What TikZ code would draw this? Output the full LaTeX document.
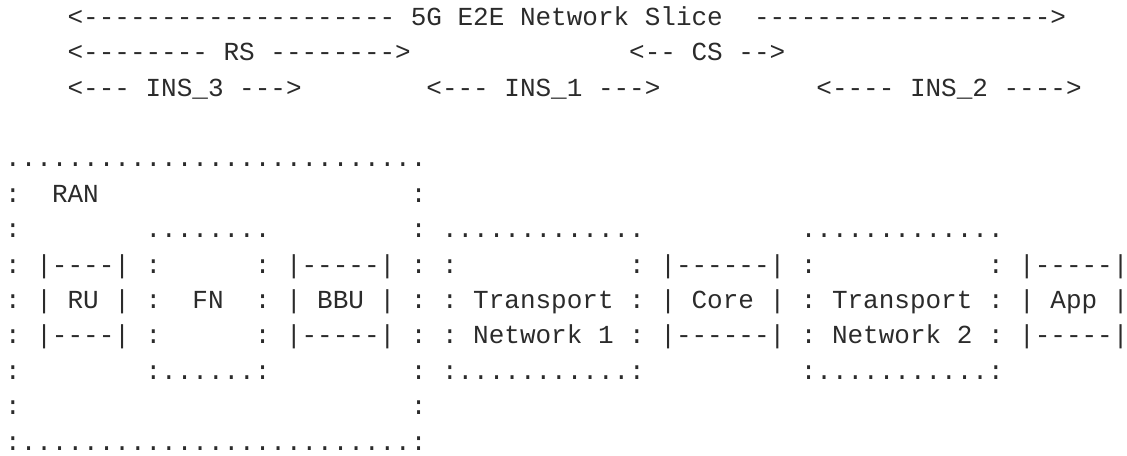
\documentclass[tikz,border=0pt]{standalone}
\usepackage{fontspec}
\setmonofont{Liberation Mono}
\definecolor{ink}{HTML}{2B2B2B}
\tikzset{
  asc/.style={anchor=base west, inner sep=0pt, outer sep=0pt, text=ink,
    font=\ttfamily\fontsize{13}{15}\selectfont}
}
% one piece of the text grid: name, column, row, text
\newcommand{\asc}[4]{\node[asc] (#1) at ({2.6pt+#2*7.8pt}, {-12.65pt-#3*17.7pt}) {#4};}
\begin{document}
\begin{tikzpicture}
            % page size, 1127 x 455 at 0.5pt
            \useasboundingbox (0,0) rectangle (563.5pt,-227.5pt);

            % the slice spans on top
            \asc{slice}{4}{0}{<-------------------- 5G E2E Network Slice}
            \asc{sliceend}{48}{0}{------------------->}
            \asc{rs}{4}{1}{<-------- RS -------->}
            \asc{cs}{40}{1}{<-- CS -->}
            \asc{insthree}{4}{2}{<--- INS\_3 --->}
            \asc{insone}{27}{2}{<--- INS\_1 --->}
            \asc{instwo}{52}{2}{<---- INS\_2 ---->}

            % RAN box and the boxes beside it
            \asc{rantop}{0}{4}{...........................}
            \asc{ranl}{0}{5}{:}
            \asc{ran}{3}{5}{RAN}
            \asc{ranr}{26}{5}{:}
            \asc{rowsixa}{0}{6}{:}
            \asc{fntop}{9}{6}{........}
            \asc{tnonetop}{26}{6}{: .............}
            \asc{tntwotop}{51}{6}{.............}
            \asc{rowsevena}{0}{7}{: |----| :}
            \asc{rowsevenb}{16}{7}{: |-----| : :}
            \asc{rowsevenc}{40}{7}{: |------| :}
            \asc{rowsevend}{63}{7}{: |-----|}
            \asc{ru}{0}{8}{: | RU | :}
            \asc{fn}{12}{8}{FN}
            \asc{bbu}{16}{8}{: | BBU | : : Transport : | Core | : Transport : | App |}
            \asc{rowninea}{0}{9}{: |----| :}
            \asc{rownineb}{16}{9}{: |-----| : : Network 1 : |------| : Network 2 : |-----|}
            \asc{rowtena}{0}{10}{:}
            \asc{fnbot}{9}{10}{:......:}
            \asc{tnonebot}{26}{10}{: :...........:}
            \asc{tntwobot}{51}{10}{:...........:}
            \asc{rowelevena}{0}{11}{:}
            \asc{rowelevenb}{26}{11}{:}
            \asc{ranbot}{0}{12}{:.........................:}
\end{tikzpicture}
\end{document}
